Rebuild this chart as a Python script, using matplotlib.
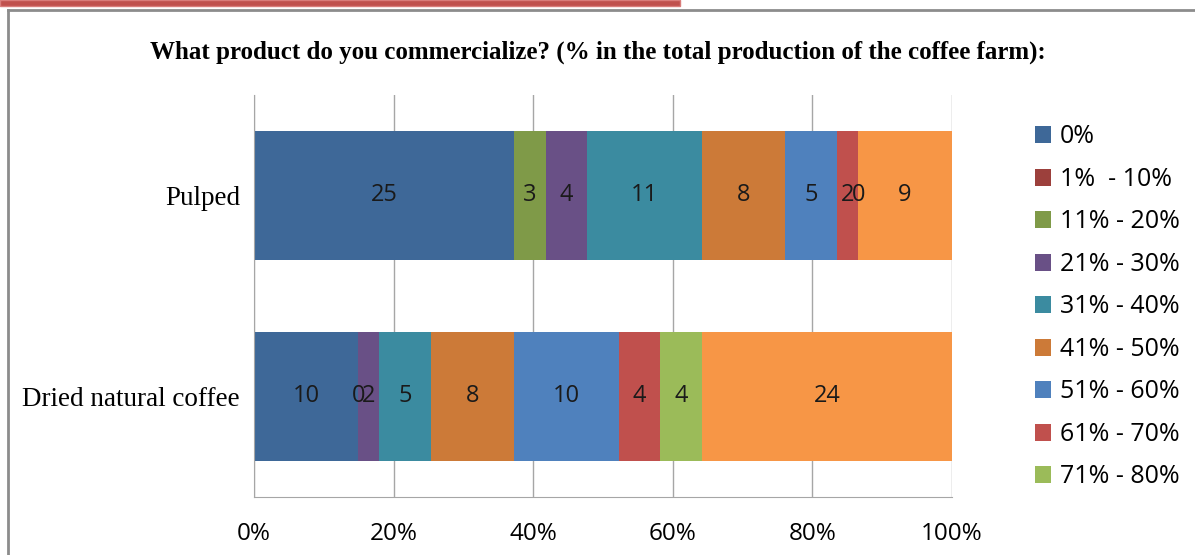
import numpy as np
import matplotlib.pyplot as plt
from matplotlib.patches import Rectangle
from matplotlib.lines import Line2D

# respuestas por categoría (número de fincas); None = sin dato
categories = ['Dried natural coffee', 'Pulped']
series_names = ['0%', '1%  - 10%', '11% - 20%', '21% - 30%', '31% - 40%',
                '41% - 50%', '51% - 60%', '61% - 70%', '71% - 80%', '81% - 100%']
dried = [10, None, 0, 2, 5, 8, 10, 4, 4, 24]
pulped = [25, None, 3, 4, 11, 8, 5, 2, 0, 9]
colors = ['#3E6898', '#9C403C', '#7F9A48', '#695086', '#3B8BA0',
          '#CC7A38', '#4F81BD', '#C0504D', '#9BBB59', '#F79646']
xticks = [0, 20, 40, 60, 80, 100]

fig = plt.figure(figsize=(11.95, 5.55), dpi=100)

# cabecera roja y marco gris del gráfico
fig.patches.append(Rectangle((0, 1 - 6 / 555), 680 / 1195, 6 / 555, transform=fig.transFigure,
                             facecolor='#C0504D', edgecolor='#D97C7A', linewidth=1))
fig.lines.append(Line2D([8 / 1195, 1], [1 - 10 / 555, 1 - 10 / 555], transform=fig.transFigure,
                        color='#8C8C8C', linewidth=2))
fig.lines.append(Line2D([8 / 1195, 8 / 1195], [0, 1 - 10 / 555], transform=fig.transFigure,
                        color='#8C8C8C', linewidth=2))

ax = fig.add_axes([254 / 1195, 1 - 497 / 555, 698 / 1195, 402 / 555])

rows = [dried, pulped]
totals = [sum(v for v in r if v is not None) for r in rows]
left = [0.0, 0.0]
handles = []
for i, name in enumerate(series_names):
    for j, r in enumerate(rows):
        v = r[i]
        if v is None:
            continue
        w = v / totals[j] * 100
        ax.barh(j, w, left=left[j], height=0.64, color=colors[i], edgecolor='none', zorder=2)
        ax.text(left[j] + w / 2, j, str(v), ha='center', va='center',
                fontsize=17, color='#1A1A1A', family='Open Sans', zorder=3)
        left[j] += w
    handles.append(Rectangle((0, 0), 1, 1, facecolor=colors[i], edgecolor='none'))

ax.set_xlim(0, 100)
ax.set_ylim(-0.5, 1.5)
ax.set_xticks(xticks)
ax.set_xticklabels([f'{t}%' for t in xticks], fontsize=17.5, family='Open Sans')
ax.set_yticks([0, 1])
ax.set_yticklabels(categories, fontsize=19.5, family='Liberation Serif')
ax.tick_params(length=0, pad=10)
ax.tick_params(axis='x', pad=18)
ax.grid(axis='x', color='#A6A6A6', linewidth=1, zorder=0)
for s in ['top', 'right']:
    ax.spines[s].set_visible(False)
for s in ['left', 'bottom']:
    ax.spines[s].set_color('#A6A6A6')

fig.text(598 / 1195, 1 - 52 / 555,
         'What product do you commercialize? (% in the total production of the coffee farm):',
         ha='center', va='center', fontsize=18, fontweight='bold', family='Liberation Serif')

# la leyenda queda recortada en el borde inferior
fig.legend(handles[:9], series_names[:9], loc='upper left', bbox_to_anchor=(1022 / 1195, 1 - 112 / 555),
           frameon=False, prop={'family': 'Open Sans', 'size': 18}, handlelength=0.65,
           handleheight=0.65, handletextpad=0.35, labelspacing=0.7, borderpad=0)

fig.savefig('out.png', dpi=100)
